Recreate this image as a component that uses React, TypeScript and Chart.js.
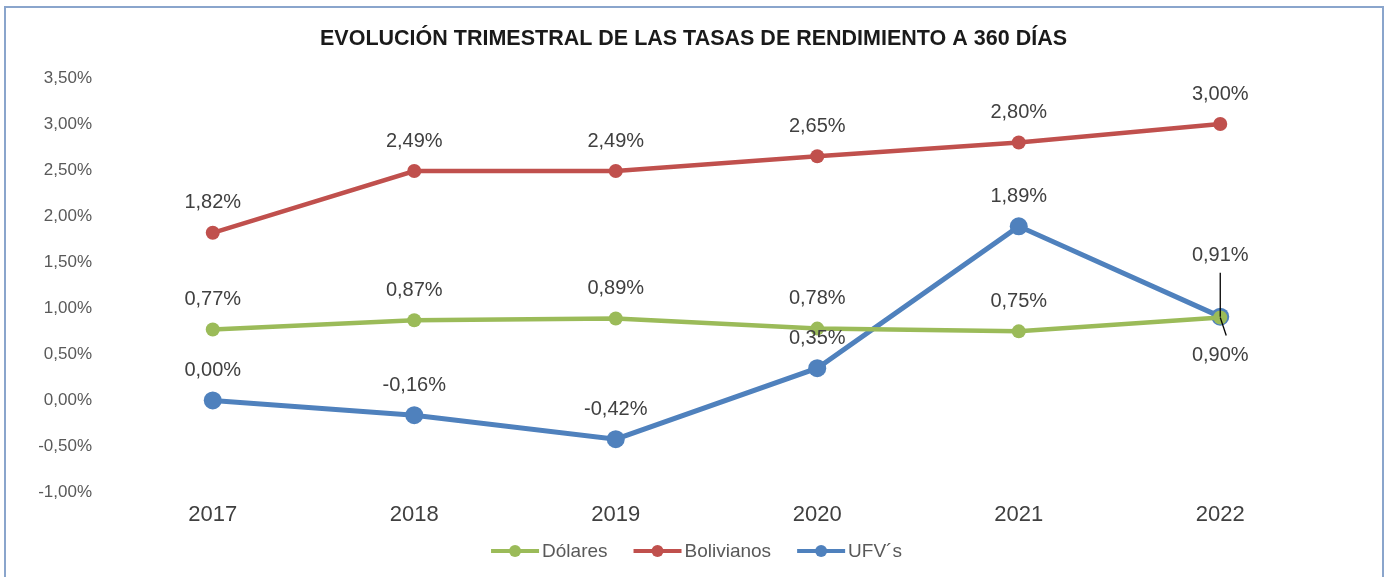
import React, { useEffect, useRef } from 'react';
import { Chart, registerables } from 'chart.js';

Chart.register(...registerables);

const TITLE = 'EVOLUCIÓN TRIMESTRAL DE LAS TASAS DE RENDIMIENTO A 360 DÍAS';
const categories = ['2017', '2018', '2019', '2020', '2021', '2022'];
const seriesNames = ['Dólares', 'Bolivianos', 'UFV´s'];
const dolares = [0.77, 0.87, 0.89, 0.78, 0.75, 0.9];
const bolivianos = [1.82, 2.49, 2.49, 2.65, 2.8, 3.0];
const ufvs = [0.0, -0.16, -0.42, 0.35, 1.89, 0.91];
const yTicks = [-1, -0.5, 0, 0.5, 1, 1.5, 2, 2.5, 3, 3.5];

const FONT = '"Liberation Sans", Arial, sans-serif';
const fmt = (v: number) => v.toFixed(2).replace('.', ',') + '%';

// label placement (offset of label centre from point, in px) per dataset/index
const labelOffset: Record<string, { dy: number; leader?: [number, number, number, number] }> = {
  '0-5': { dy: 38, leader: [0, 0, 6, 18] },
  '2-5': { dy: -61, leader: [0, -44, 0, 0] },
};

const titlePlugin = {
  id: 'centeredTitle',
  afterDraw(chart: any) {
    const ctx = chart.ctx;
    ctx.save();
    ctx.font = `bold 21.5px ${FONT}`;
    ctx.fillStyle = '#1a1a1a';
    ctx.textAlign = 'center';
    ctx.textBaseline = 'middle';
    ctx.fillText(TITLE, chart.width / 2 + 1, 39);
    ctx.restore();
  },
};

const dataLabelPlugin = {
  id: 'dataLabels',
  afterDatasetsDraw(chart: any) {
    const ctx = chart.ctx;
    ctx.save();
    ctx.font = `20px ${FONT}`;
    ctx.fillStyle = '#404040';
    ctx.textAlign = 'center';
    ctx.textBaseline = 'middle';
    chart.data.datasets.forEach((ds: any, di: number) => {
      const meta = chart.getDatasetMeta(di);
      meta.data.forEach((pt: any, i: number) => {
        const cfg = labelOffset[`${di}-${i}`] || { dy: -30 };
        const v = ds.data[i] as number;
        ctx.fillText(fmt(v), pt.x, pt.y + cfg.dy);
        if (cfg.leader) {
          const [x1, y1, x2, y2] = cfg.leader;
          ctx.save();
          ctx.strokeStyle = '#000';
          ctx.lineWidth = 1.3;
          ctx.beginPath();
          ctx.moveTo(pt.x + x1, pt.y + y1);
          ctx.lineTo(pt.x + x2, pt.y + y2);
          ctx.stroke();
          ctx.restore();
        }
      });
    });
    ctx.restore();
  },
};

const legendPlugin = {
  id: 'lineLegend',
  afterDraw(chart: any) {
    const ctx = chart.ctx;
    ctx.save();
    ctx.font = `19px ${FONT}`;
    ctx.textBaseline = 'middle';
    ctx.textAlign = 'left';
    const markerW = 48;
    const gapText = 3;
    const gapItem = 26;
    const items = chart.data.datasets.map((ds: any) => ({
      text: ds.label,
      color: ds.borderColor,
      w: ctx.measureText(ds.label).width,
    }));
    const total =
      items.reduce((a: number, it: any) => a + markerW + gapText + it.w, 0) + gapItem * (items.length - 1);
    let x = (chart.width - total) / 2 + 4;
    const y = 551;
    items.forEach((it: any) => {
      ctx.strokeStyle = it.color;
      ctx.lineWidth = 4;
      ctx.beginPath();
      ctx.moveTo(x, y);
      ctx.lineTo(x + markerW, y);
      ctx.stroke();
      ctx.fillStyle = it.color;
      ctx.beginPath();
      ctx.arc(x + markerW / 2, y, 6, 0, Math.PI * 2);
      ctx.fill();
      ctx.fillStyle = '#595959';
      ctx.fillText(it.text, x + markerW + gapText, y + 1);
      x += markerW + gapText + it.w + gapItem;
    });
    ctx.restore();
  },
};

export default function App() {
  const ref = useRef<HTMLCanvasElement>(null);
  useEffect(() => {
    document.body.style.margin = '0';
    const canvas = ref.current!;
    const green = '#9BBB59';
    const red = '#C0504D';
    const blue = '#4F81BD';
    const chart = new Chart(canvas, {
      type: 'line',
      data: {
        labels: categories,
        datasets: [
          {
            label: seriesNames[0],
            data: dolares,
            borderColor: green,
            backgroundColor: green,
            borderWidth: 4.5,
            pointRadius: 7,
            pointBorderWidth: 0,
            tension: 0,
          },
          {
            label: seriesNames[1],
            data: bolivianos,
            borderColor: red,
            backgroundColor: red,
            borderWidth: 4.5,
            pointRadius: 7,
            pointBorderWidth: 0,
            tension: 0,
          },
          {
            label: seriesNames[2],
            data: ufvs,
            borderColor: blue,
            backgroundColor: blue,
            borderWidth: 5,
            pointRadius: 9,
            pointBorderWidth: 0,
            tension: 0,
          },
        ],
      },
      options: {
        responsive: false,
        animation: false,
        devicePixelRatio: 1,
        layout: { padding: { left: 0, right: 64, top: 78, bottom: 40 } },
        plugins: {
          legend: { display: false },
          tooltip: { enabled: false },
          title: { display: false },
        },
        scales: {
          x: {
            offset: true,
            grid: { display: false, drawTicks: false },
            border: { display: false },
            ticks: { color: '#404040', font: { family: FONT, size: 22 }, padding: 9 },
          },
          y: {
            min: -1,
            max: 3.5,
            afterBuildTicks: (s: any) => {
              s.ticks = yTicks.map((v) => ({ value: v }));
            },
            afterFit: (s: any) => {
              s.width = 112;
            },
            grid: { display: false, drawTicks: false },
            border: { display: false },
            ticks: {
              color: '#595959',
              font: { family: FONT, size: 17 },
              padding: 20,
              callback: (v: any) => fmt(Number(v)),
            },
          },
        },
      },
      plugins: [dataLabelPlugin, legendPlugin, titlePlugin],
    } as any);
    return () => chart.destroy();
  }, []);
  return (
    <div style={{ position: 'relative', width: 1385, height: 577, overflow: 'hidden', background: '#fff' }}>
      <div
        style={{
          position: 'absolute',
          left: 4,
          top: 6,
          width: 1380,
          height: 620,
          border: '2px solid #8AA5CC',
          boxSizing: 'border-box',
        }}
      />
      <canvas
        ref={ref}
        width={1385}
        height={577}
        style={{ position: 'absolute', left: 0, top: 0, width: 1385, height: 577 }}
      />
    </div>
  );
}
